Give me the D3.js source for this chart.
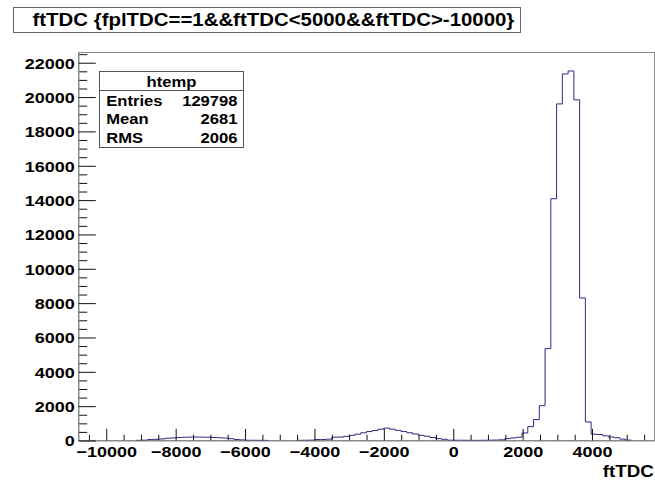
<!DOCTYPE html>
<html>
<head>
<meta charset="utf-8">
<script src="https://cdn.jsdelivr.net/npm/d3@7"></script>
<style>
  html, body { margin: 0; padding: 0; background: #fff; }
  svg { display: block; }
  text { font-family: "Liberation Sans", Arial, Helvetica, sans-serif; font-weight: bold; fill: #000; }
</style>
</head>
<body>
<svg id="chart" width="655" height="484"></svg>
<script>
// Histogram binning: 100 equal bins starting at binLow
const binLow = -10800;
const binWidth = 166;
const counts = [
  0, 0, 0, 0, 0, 0, 0, 0, 0, 0,
  10, 20, 55, 70, 90, 130, 150, 175, 190, 200,
  200, 195, 190, 175, 160, 140, 105, 55, 35, 15,
  12, 10, 8, 0, 0, 0, 0, 0, 10, 15,
  20, 55, 60, 80, 190, 200, 240, 300, 370, 450,
  520, 580, 660, 720, 660, 590, 520, 450, 380, 300,
  250, 175, 110, 70, 20, 15, 15, 12, 8, 10,
  15, 20, 25, 40, 110, 150, 190, 440, 810, 1220,
  2030, 5350, 14080, 19600, 21350, 21520, 19840, 8300, 1080, 370,
  350, 270, 200, 160, 80, 20, 0, 0, 0, 0
];

// Axis ticks
const xMajorTicks = [-10000, -8000, -6000, -4000, -2000, 0, 2000, 4000];
const xMinorStep = 500;
const yMajorTicks = [0, 2000, 4000, 6000, 8000, 10000, 12000, 14000, 16000, 18000, 20000, 22000];
const yMinorStep = 500;

// Texts
const titleText = "ftTDC {fplTDC==1&&ftTDC<5000&&ftTDC>-10000}";
const xAxisTitle = "ftTDC";
const statsName = "htemp";
const statsLabels = ["Entries", "Mean", "RMS"];
const statsValues = ["129798", "2681", "2006"];

// ---- drawing ----
const svg = d3.select("#chart");
const frame = { left: 78.5, right: 654.5, top: 52.5, bottom: 440.5 };
const histColor = "#2b2b80";
const frameColor = "#8a8a8a";

// text helper: wide bold sans, stretched horizontally
function label(parent, str, px, py, size, sx, anchor) {
  return parent.append("text")
    .attr("transform", `translate(${px},${py}) scale(${sx},1)`)
    .attr("font-size", size)
    .attr("text-anchor", anchor || "start")
    .text(str);
}

const xHigh = binLow + binWidth * counts.length;
const x = d3.scaleLinear().domain([binLow, xHigh]).range([frame.left, frame.right]);
const yMax = 1.05 * d3.max(counts);
const y = d3.scaleLinear().domain([0, yMax]).range([frame.bottom, frame.top]);

// frame
svg.append("rect")
  .attr("x", frame.left).attr("y", frame.top)
  .attr("width", frame.right - frame.left).attr("height", frame.bottom - frame.top)
  .attr("fill", "#fff").attr("stroke", frameColor).attr("stroke-width", 1);

// histogram outline as a step line; empty bins are left undrawn
const stepPoints = [];
counts.forEach((c, i) => {
  const lo = binLow + i * binWidth;
  stepPoints.push({ x: lo, v: c });
  stepPoints.push({ x: lo + binWidth, v: c });
});
const line = d3.line()
  .defined(d => d.v > 0)
  .x(d => x(d.x))
  .y(d => y(d.v));
svg.append("path")
  .datum(stepPoints)
  .attr("d", line)
  .attr("fill", "none")
  .attr("stroke", histColor)
  .attr("stroke-width", 1);

const tickFont = 15;
const tickStretch = 1.2;

// x minor ticks
const [xd0, xd1] = x.domain();
const xMinor = d3.range(Math.ceil(xd0 / xMinorStep) * xMinorStep, xd1, xMinorStep)
  .filter(v => !xMajorTicks.includes(v));
svg.append("g")
  .attr("transform", `translate(0,${frame.bottom})`)
  .call(d3.axisBottom(x).tickValues(xMinor).tickSizeInner(-5.8).tickSizeOuter(0).tickFormat(""))
  .call(g => g.select(".domain").remove())
  .call(g => g.selectAll(".tick line").attr("stroke", "#111"));

// x major ticks with labels
svg.append("g")
  .attr("transform", `translate(0,${frame.bottom})`)
  .call(d3.axisBottom(x).tickValues(xMajorTicks).tickSizeInner(-11.6).tickSizeOuter(0).tickPadding(6)
    .tickFormat(d3.format("d")))
  .call(g => g.select(".domain").attr("stroke", frameColor))
  .call(g => g.selectAll(".tick line").attr("stroke", "#111"))
  .call(g => g.selectAll(".tick text")
    .attr("font-size", tickFont)
    .attr("font-family", null)
    .attr("transform", `scale(${tickStretch},1)`)
    .attr("fill", "#000"));

// y minor ticks
const yMinor = d3.range(0, yMax, yMinorStep).filter(v => !yMajorTicks.includes(v));
svg.append("g")
  .attr("transform", `translate(${frame.left},0)`)
  .call(d3.axisLeft(y).tickValues(yMinor).tickSizeInner(-8.7).tickSizeOuter(0).tickFormat(""))
  .call(g => g.select(".domain").remove())
  .call(g => g.selectAll(".tick line").attr("stroke", "#111"));

// y major ticks with labels
const yLabelGap = 3.8;
svg.append("g")
  .attr("transform", `translate(${frame.left},0)`)
  .call(d3.axisLeft(y).tickValues(yMajorTicks).tickSizeInner(-17.3).tickSizeOuter(0)
    .tickFormat(d3.format("d")))
  .call(g => g.select(".domain").attr("stroke", frameColor))
  .call(g => g.selectAll(".tick line").attr("stroke", "#111"))
  .call(g => g.selectAll(".tick text")
    .attr("font-size", tickFont)
    .attr("font-family", null)
    .attr("x", -yLabelGap / tickStretch)
    .attr("dy", "0.36em")
    .attr("transform", `scale(${tickStretch},1)`)
    .attr("fill", "#000"));

// x axis title
label(svg, xAxisTitle, 653.8, 476.7, 16.3, 1.15, "end");

// title box
svg.append("rect")
  .attr("x", 13.5).attr("y", 7.5).attr("width", 507).attr("height", 25)
  .attr("fill", "#fff").attr("stroke", "#666").attr("stroke-width", 1);
label(svg, titleText, 32.5, 26, 17.6, 1.16, "start");

// statistics box
const sb = { x: 99.5, y: 71.5, w: 144, h: 76, sep: 90.5 };
svg.append("rect")
  .attr("x", sb.x).attr("y", sb.y).attr("width", sb.w).attr("height", sb.h)
  .attr("fill", "#fff").attr("stroke", "#555").attr("stroke-width", 1);
svg.append("line")
  .attr("x1", sb.x).attr("x2", sb.x + sb.w)
  .attr("y1", sb.sep).attr("y2", sb.sep)
  .attr("stroke", "#555").attr("stroke-width", 1);
label(svg, statsName, sb.x + sb.w / 2, 86.7, 15.5, 1.07, "middle");
const rowY = [106, 124.3, 142.7];
statsLabels.forEach((lab, i) => {
  label(svg, lab, 106.3, rowY[i], 15.5, 1.07, "start");
  label(svg, statsValues[i], 237.5, rowY[i], 15.5, 1.07, "end");
});
</script>
</body>
</html>
